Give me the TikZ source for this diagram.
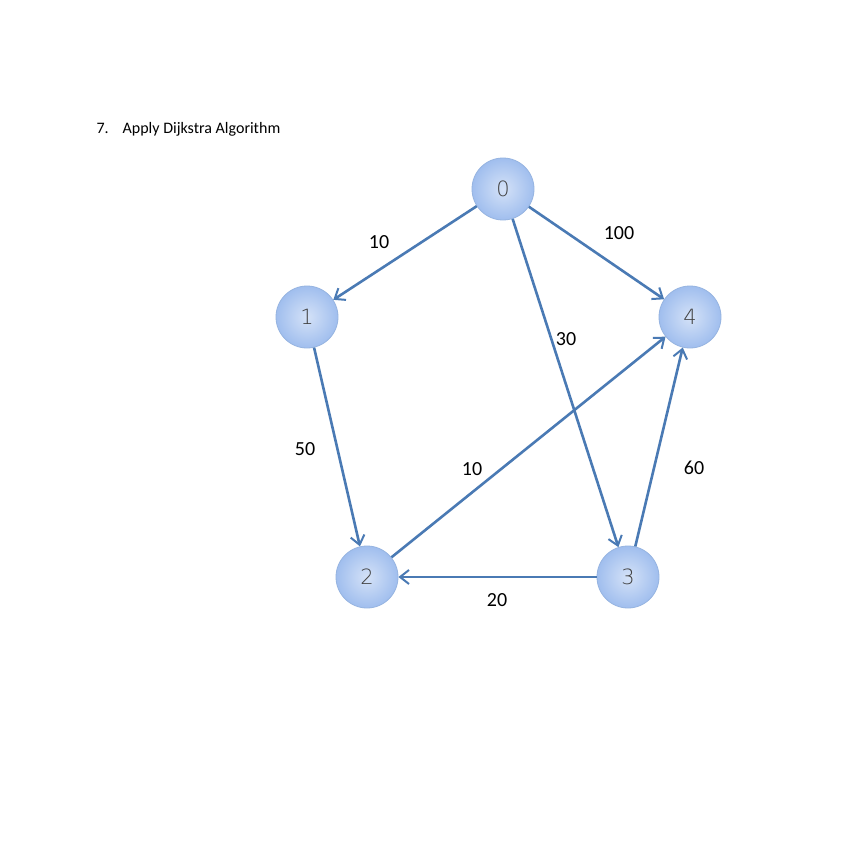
\documentclass[tikz,border=0pt]{standalone}
\usepackage{fontspec}
\setmainfont{Carlito}
\usetikzlibrary{arrows.meta}
\definecolor{edge}{RGB}{74,122,180}
\definecolor{nfill}{RGB}{160,190,238}
\definecolor{nrim}{RGB}{150,180,225}
\tikzset{
  vert/.style={circle,minimum size=62pt,inner sep=0pt,draw=nrim,line width=0.8pt,
    inner color=white!55!nfill,outer color=nfill,font=\fontsize{21}{21}\selectfont\fontspec{DejaVu Sans ExtraLight},text=black!75},
  arc/.style={draw=edge,line width=2.6pt,-{Straight Barb[length=9pt,width=14pt,line width=2pt]}},
  wt/.style={font=\fontsize{20}{20}\selectfont,text=black}
}
\begin{document}
\begin{tikzpicture}[x=1pt,y=-1pt]
\useasboundingbox (0,0) rectangle (865,864);
\fill[white] (0,0) rectangle (865,864);
\node[anchor=west,font=\fontsize{16}{16}\selectfont] (title) at (93,129) {7.\hspace{14pt}Apply Dijkstra Algorithm};
\node[vert] (n0) at (503,189) {0};
\node[vert] (n1) at (307,317) {1};
\node[vert] (n4) at (690,317) {4};
\node[vert] (n2) at (367,577) {2};
\node[vert] (n3) at (628,577) {3};
\draw[arc] (n0) -- (n1);
\draw[arc] (n0) -- (n4);
\draw[arc] (n0) -- (n3);
\draw[arc] (n1) -- (n2);
\draw[arc] (n2) -- (n4);
\draw[arc] (n3) -- (n2);
\draw[arc] (n3) -- (n4);
\node[wt] (w01) at (379,242) {10};
\node[wt] (w04) at (619,233) {100};
\node[wt] (w03) at (566,339) {30};
\node[wt] (w12) at (305,449) {50};
\node[wt] (w24) at (472,469) {10};
\node[wt] (w34) at (694,468) {60};
\node[wt] (w32) at (497,600) {20};
\end{tikzpicture}
\end{document}
